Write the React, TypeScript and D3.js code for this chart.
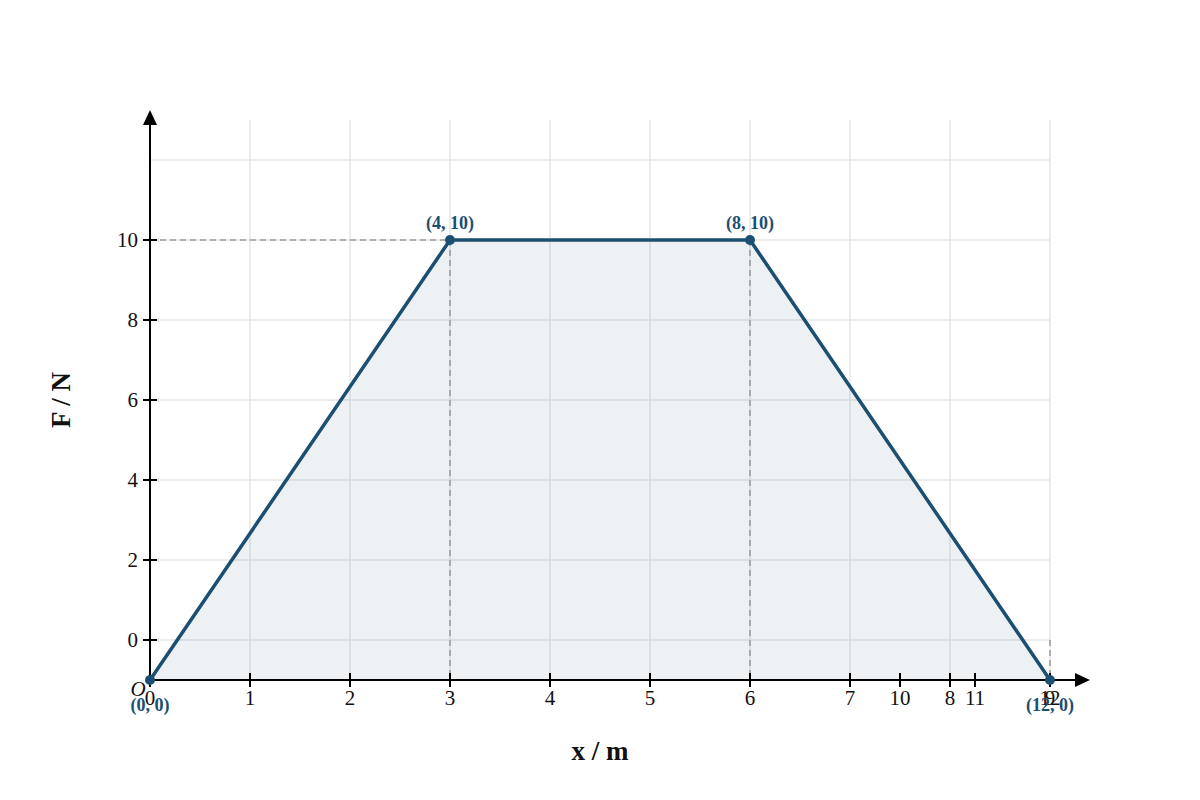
import React from "react";
import * as d3 from "d3";

const pointsX = [0, 4, 8, 12];
const pointsY = [0, 10, 10, 0];
const pointLabels = ["(0, 0)", "(4, 10)", "(8, 10)", "(12, 0)"];
const indexTicks = [0, 1, 2, 3, 4, 5, 6, 7, 8, 9];
const valueTicks = [10, 11, 12];
const yTicks = [0, 2, 4, 6, 8, 10];
const yGrid = [0, 2, 4, 6, 8, 10, 12];

const W = 1200;
const H = 800;
const FONT = "'Liberation Serif', 'DejaVu Serif', serif";
const LINE = "#1b4f72";

export default function App() {
  const xData = d3.scaleLinear().domain([0, 12]).range([150, 1050]);
  const xIdx = d3.scaleLinear().domain([0, 9]).range([150, 1050]);
  const yData = d3.scaleLinear().domain([0, 10]).range([680, 240]);
  const yTick = d3.scaleLinear().domain([0, 12]).range([640, 160]);
  const pts: [number, number][] = pointsX.map((x, i) => [x, pointsY[i]]);
  const line = d3.line<[number, number]>().x((d) => xData(d[0])).y((d) => yData(d[1]));
  const area = d3
    .area<[number, number]>()
    .x((d) => xData(d[0]))
    .y0(yData(0))
    .y1((d) => yData(d[1]));
  const axisY = 680;
  const axisX = 150;
  return (
    <svg width={W} height={H} style={{ display: "block", margin: "-8px" }} fontFamily={FONT}>
      <rect width={W} height={H} fill="#fff" />
      {/* grid */}
      {indexTicks.slice(1).map((t) => (
        <line key={"gx" + t} x1={xIdx(t)} x2={xIdx(t)} y1={120} y2={axisY} stroke="#e6e6e6" strokeWidth={1.5} />
      ))}
      {yGrid.map((t) => (
        <line key={"gy" + t} x1={axisX} x2={1050} y1={yTick(t)} y2={yTick(t)} stroke="#e6e6e6" strokeWidth={1.5} />
      ))}
      {/* area */}
      <path d={area(pts) || ""} fill={LINE} fillOpacity={0.08} />
      {/* dashed helpers */}
      <line x1={axisX} x2={xData(4)} y1={yData(10)} y2={yData(10)} stroke="#999" strokeWidth={1.5} strokeDasharray="6,4" />
      <line x1={xData(4)} x2={xData(8)} y1={yData(10)} y2={yData(10)} stroke="#999" strokeWidth={1.5} strokeDasharray="6,4" />
      <line x1={xData(4)} x2={xData(4)} y1={yData(10)} y2={axisY} stroke="#999" strokeWidth={1.5} strokeDasharray="6,4" />
      <line x1={xData(8)} x2={xData(8)} y1={yData(10)} y2={axisY} stroke="#999" strokeWidth={1.5} strokeDasharray="6,4" />
      <line x1={xData(12)} x2={xData(12)} y1={yTick(0)} y2={axisY} stroke="#999" strokeWidth={1.5} strokeDasharray="6,4" />
      {/* line */}
      <path d={line(pts) || ""} fill="none" stroke={LINE} strokeWidth={3.5} />
      {/* axes */}
      <line x1={axisX} x2={1078} y1={axisY} y2={axisY} stroke="#000" strokeWidth={2} />
      <polygon points={`1090,${axisY} 1075,${axisY - 7} 1075,${axisY + 7}`} fill="#000" />
      <line x1={axisX} x2={axisX} y1={axisY} y2={122} stroke="#000" strokeWidth={2} />
      <polygon points={`${axisX},110 ${axisX - 7},125 ${axisX + 7},125`} fill="#000" />
      {/* x ticks */}
      {indexTicks.map((t) => (
        <g key={"xt" + t}>
          <line x1={xIdx(t)} x2={xIdx(t)} y1={axisY - 7} y2={axisY + 7} stroke="#000" strokeWidth={2} />
          <text x={xIdx(t)} y={705} textAnchor="middle" fontSize={21} fill="#111">
            {t}
          </text>
        </g>
      ))}
      {valueTicks.map((t) => (
        <g key={"xv" + t}>
          <line x1={xData(t)} x2={xData(t)} y1={axisY - 7} y2={axisY + 7} stroke="#000" strokeWidth={2} />
          <text x={xData(t)} y={705} textAnchor="middle" fontSize={21} fill="#111">
            {t}
          </text>
        </g>
      ))}
      {/* y ticks */}
      {yTicks.map((t) => (
        <g key={"yt" + t}>
          <line x1={axisX - 7} x2={axisX + 7} y1={yTick(t)} y2={yTick(t)} stroke="#000" strokeWidth={2} />
          <text x={138} y={yTick(t)} dy="0.35em" textAnchor="end" fontSize={21} fill="#111">
            {t}
          </text>
        </g>
      ))}
      <text x={138} y={696} textAnchor="middle" fontSize={21} fontStyle="italic" fill="#111">
        O
      </text>
      {/* points */}
      {pts.map((p, i) => (
        <circle key={"p" + i} cx={xData(p[0])} cy={yData(p[1])} r={5} fill={LINE} />
      ))}
      {pts.map((p, i) => (
        <text
          key={"pl" + i}
          x={xData(p[0])}
          y={p[1] > 0 ? yData(p[1]) - 11 : yData(p[1]) + 31}
          textAnchor="middle"
          fontSize={18}
          fontWeight="bold"
          fill={LINE}
        >
          {pointLabels[i]}
        </text>
      ))}
      {/* axis titles */}
      <text x={600} y={760} textAnchor="middle" fontSize={27} fontWeight="bold" fill="#111">
        x / m
      </text>
      <text
        transform={`translate(70,400) rotate(-90)`}
        textAnchor="middle"
        fontSize={27}
        fontWeight="bold"
        fill="#111"
      >
        F / N
      </text>
    </svg>
  );
}
